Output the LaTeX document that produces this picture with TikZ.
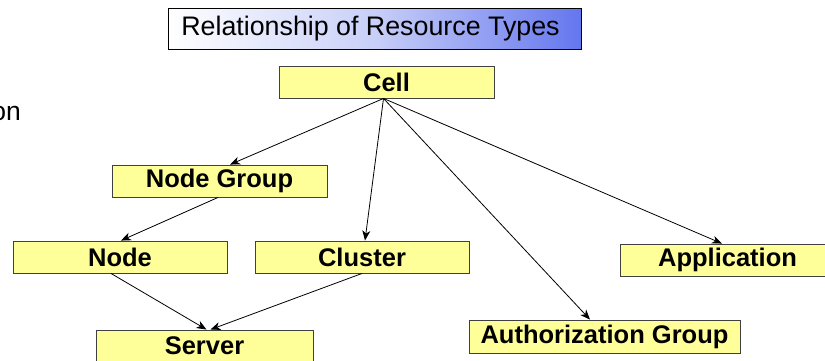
\documentclass[tikz,border=0pt]{standalone}
\usepackage{fontspec}
\setmainfont{Liberation Sans}
\usetikzlibrary{arrows.meta,shadows}
\definecolor{boxfill}{RGB}{255,255,153}
\definecolor{titleblue}{RGB}{100,118,238}
\definecolor{titlemid}{RGB}{200,207,248}
\tikzset{
  rbox/.style={draw=black!75, line width=0.9pt, fill=boxfill, inner sep=0pt,
    font=\fontsize{25.5}{29}\selectfont\bfseries,
    drop shadow={shadow xshift=1.2pt, shadow yshift=-1.2pt, fill=black!45, opacity=0.8}},
  link/.style={draw=black, line width=0.8pt, -{Stealth[length=10pt,width=8pt,inset=3pt]}}
}
\begin{document}
\begin{tikzpicture}[x=1pt,y=-1pt]
\useasboundingbox (0,0) rectangle (825,360);
\begin{scope}
\clip (0,0) rectangle (825,360);
% title
\node[draw=black, line width=1pt, minimum width=413pt, minimum height=41pt, inner sep=0pt,
  left color=white, right color=titleblue, middle color=titlemid,
  font=\fontsize{26.8}{30}\selectfont] (title) at (374.5,28.5) {\hspace*{-8pt}Relationship of Resource Types};
% partial text
\node[anchor=base east, inner sep=0pt, font=\fontsize{26.5}{30}\selectfont] (on) at (21,120) {on};
% boxes
\node[rbox, minimum width=215pt, minimum height=32pt] (cell) at (386.5,82) {Cell};
\node[rbox, minimum width=215pt, minimum height=32pt] (ng) at (219.5,181) {Node Group};
\node[rbox, minimum width=214pt, minimum height=32pt] (node) at (120,257) {Node};
\node[rbox, minimum width=214pt, minimum height=32pt] (cluster) at (362,257) {Cluster};
\node[rbox, minimum width=215pt, minimum height=32pt] (app) at (727.5,260) {Application};
\node[rbox, minimum width=217pt, minimum height=32pt] (server) at (204.5,346) {Server};
\node[rbox, minimum width=271pt, minimum height=33pt] (auth) at (604.5,336.5) {Authorization Group};
% connectors
\draw[link] ([xshift=-3pt]cell.south) -- ([xshift=10.5pt]ng.north);
\draw[link] ([xshift=-3pt]cell.south) -- ([xshift=3pt]cluster.north);
\draw[link] ([xshift=-3pt]cell.south) -- ([xshift=-14.5pt]auth.north);
\draw[link] ([xshift=-3pt]cell.south) -- ([xshift=-5.5pt]app.north);
\draw[link] ([xshift=-1.5pt]ng.south) -- ([xshift=1pt]node.north);
\draw[link] ([xshift=-9pt]node.south) -- ([xshift=2pt]server.north);
\draw[link] (cluster.south) -- ([xshift=6pt]server.north);
\end{scope}
\end{tikzpicture}
\end{document}
